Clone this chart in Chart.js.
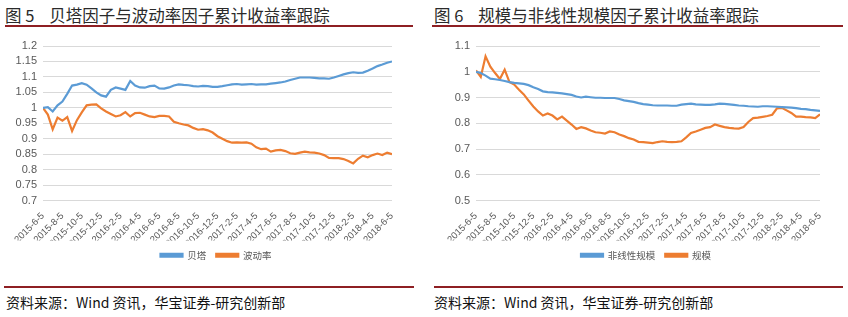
<!DOCTYPE html>
<html>
<head>
<meta charset="utf-8">
<script src="https://cdn.jsdelivr.net/npm/chart.js@4/dist/chart.umd.min.js"></script>
<style>
body { margin: 0; width: 848px; height: 317px; background: #fff; position: relative; overflow: hidden; font-family: "Noto Sans CJK SC", sans-serif; }
.title { position: absolute; top: 5px; font-size: 16.5px; line-height: 20px; color: #2a2a2a; white-space: pre; }
.rule { position: absolute; height: 2px; background: #8e1f23; }
.src { position: absolute; top: 293px; font-size: 14px; line-height: 18px; color: #111; white-space: pre; }
.box { position: absolute; top: 30px; width: 424px; height: 240px; }
</style>
</head>
<body>
<div class="title" style="left:5px">图 5    贝塔因子与波动率因子累计收益率跟踪</div>
<div class="rule" style="left:5px;width:408px;top:25px"></div>
<div class="title" style="left:434px">图 6    规模与非线性规模因子累计收益率跟踪</div>
<div class="rule" style="left:432px;width:411px;top:25px"></div>

<div class="box" style="left:0"><canvas id="chart5"></canvas></div>
<div class="box" style="left:424px"><canvas id="chart6"></canvas></div>

<div class="rule" style="left:4px;width:410px;top:286px"></div>
<div class="rule" style="left:434px;width:409px;top:286px"></div>
<div class="src" style="left:6px">资料来源：Wind 资讯，华宝证券-研究创新部</div>
<div class="src" style="left:434px">资料来源：Wind 资讯，华宝证券-研究创新部</div>

<script>
// axis labels, one every two months
const tickLabels = ['2015-6-5', '2015-8-5', '2015-10-5', '2015-12-5', '2016-2-5', '2016-4-5',
  '2016-6-5', '2016-8-5', '2016-10-5', '2016-12-5', '2017-2-5', '2017-4-5', '2017-6-5',
  '2017-8-5', '2017-10-5', '2017-12-5', '2018-2-5', '2018-4-5', '2018-6-5'];

// values sampled every half month from 2015-6-5
const beta = [1.000, 1.002, 0.988, 1.008, 1.020, 1.045, 1.072, 1.075, 1.080, 1.075,
  1.063, 1.050, 1.040, 1.036, 1.058, 1.066, 1.062, 1.058, 1.087, 1.072,
  1.066, 1.065, 1.070, 1.072, 1.063, 1.062, 1.066, 1.072, 1.076, 1.074,
  1.073, 1.070, 1.069, 1.071, 1.070, 1.068, 1.068, 1.070, 1.073, 1.076,
  1.077, 1.075, 1.076, 1.077, 1.075, 1.076, 1.076, 1.078, 1.080, 1.082,
  1.085, 1.090, 1.094, 1.098, 1.098, 1.098, 1.097, 1.095, 1.095, 1.094,
  1.098, 1.103, 1.108, 1.112, 1.115, 1.113, 1.114, 1.120, 1.127, 1.135,
  1.140, 1.146, 1.150];

const volatility = [1.000, 0.978, 0.930, 0.968, 0.958, 0.970, 0.925, 0.960, 0.985, 1.008,
  1.010, 1.011, 0.998, 0.988, 0.980, 0.972, 0.976, 0.986, 0.972, 0.983,
  0.984, 0.978, 0.972, 0.970, 0.974, 0.974, 0.972, 0.955, 0.950, 0.946,
  0.943, 0.935, 0.929, 0.931, 0.927, 0.920, 0.908, 0.900, 0.892, 0.887,
  0.888, 0.887, 0.888, 0.884, 0.872, 0.866, 0.868, 0.858, 0.862, 0.864,
  0.860, 0.853, 0.851, 0.855, 0.858, 0.856, 0.855, 0.852, 0.847, 0.838,
  0.837, 0.837, 0.834, 0.828, 0.820, 0.835, 0.845, 0.840, 0.847, 0.852,
  0.847, 0.855, 0.850];

const nonlinSize = [1.000, 0.995, 0.985, 0.973, 0.971, 0.968, 0.964, 0.960, 0.957, 0.955,
  0.953, 0.948, 0.940, 0.933, 0.924, 0.921, 0.920, 0.918, 0.916, 0.913,
  0.910, 0.904, 0.900, 0.903, 0.901, 0.899, 0.899, 0.898, 0.898, 0.898,
  0.894, 0.889, 0.886, 0.883, 0.878, 0.874, 0.872, 0.870, 0.869, 0.869,
  0.869, 0.868, 0.868, 0.872, 0.874, 0.876, 0.873, 0.872, 0.871, 0.871,
  0.873, 0.876, 0.875, 0.873, 0.871, 0.869, 0.868, 0.866, 0.865, 0.864,
  0.866, 0.866, 0.865, 0.864, 0.863, 0.862, 0.861, 0.859, 0.856, 0.855,
  0.852, 0.850, 0.848];

const size = [1.005, 0.980, 1.060, 1.020, 0.995, 0.972, 1.008, 0.960, 0.950, 0.930,
  0.912, 0.888, 0.865, 0.846, 0.830, 0.838, 0.830, 0.815, 0.826, 0.810,
  0.795, 0.778, 0.785, 0.780, 0.772, 0.765, 0.763, 0.760, 0.768, 0.765,
  0.756, 0.750, 0.742, 0.737, 0.728, 0.727, 0.725, 0.723, 0.727, 0.730,
  0.728, 0.727, 0.728, 0.730, 0.745, 0.762, 0.768, 0.775, 0.782, 0.785,
  0.795, 0.790, 0.785, 0.782, 0.780, 0.779, 0.785, 0.805, 0.820, 0.822,
  0.825, 0.828, 0.833, 0.858, 0.860, 0.850, 0.840, 0.826, 0.826, 0.824,
  0.823, 0.820, 0.835];

const BLUE = '#5b9bd5';
const ORANGE = '#ed7d31';
const GREY = '#595959';

function points(values) {
  return values.map((v, i) => ({ x: i / 2, y: v }));
}

// nudge the legend sideways so it sits where the original one does
const legendShift = {
  id: 'legendShift',
  afterLayout(chart, args, opts) {
    chart.legend.left += opts.dx;
    chart.legend.right += opts.dx;
  }
};

function makeChart(id, names, series, yMin, yMax, yStep, yWidth, padRight, legendDx) {
  const ctx = document.getElementById(id).getContext('2d');
  return new Chart(ctx, {
    type: 'line',
    plugins: [legendShift],
    data: {
      datasets: [{
        label: names[0],
        data: points(series[0]),
        borderColor: BLUE,
        backgroundColor: BLUE,
        borderWidth: 2.2,
        pointRadius: 0,
        tension: 0
      },
      {
        label: names[1],
        data: points(series[1]),
        borderColor: ORANGE,
        backgroundColor: ORANGE,
        borderWidth: 2.2,
        pointRadius: 0,
        tension: 0
      }]
    },
    options: {
      responsive: true,
      maintainAspectRatio: false,
      animation: false,
      layout: { padding: { top: 16, right: padRight, left: 0, bottom: 0 } },
      plugins: {
        legendShift: { dx: legendDx },
        legend: {
          display: true,
          position: 'bottom',
          labels: {
            color: GREY,
            boxWidth: 22,
            boxHeight: 3,
            padding: 10,
            font: { size: 9.5, family: '"Noto Sans CJK SC", sans-serif' }
          }
        },
        tooltip: { enabled: false }
      },
      scales: {
        x: {
          type: 'linear',
          min: 0,
          max: 36,
          grid: { display: false },
          border: { display: false },
          afterFit: scale => { scale.height = 40; },
          ticks: {
            stepSize: 2,
            autoSkip: false,
            minRotation: 45,
            maxRotation: 45,
            padding: 2,
            color: GREY,
            font: { size: 9.5, family: '"Liberation Sans", Arial, sans-serif' },
            callback: v => tickLabels[Math.round(v / 2)]
          }
        },
        y: {
          min: yMin,
          max: yMax,
          grid: { color: '#d9d9d9', lineWidth: 1, drawTicks: false },
          border: { display: false },
          afterFit: scale => { scale.width = yWidth; },
          ticks: {
            stepSize: yStep,
            autoSkip: false,
            padding: 6,
            color: GREY,
            font: { size: 11, family: '"Liberation Sans", Arial, sans-serif' },
            callback: v => String(Number(v.toFixed(2)))
          }
        }
      }
    }
  });
}

makeChart('chart5', ['贝塔', '波动率'], [beta, volatility], 0.7, 1.2, 0.05, 43, 32, 20);
makeChart('chart6', ['非线性规模', '规模'], [nonlinSize, size], 0.5, 1.1, 0.1, 52, 28, 24);
</script>
</body>
</html>
